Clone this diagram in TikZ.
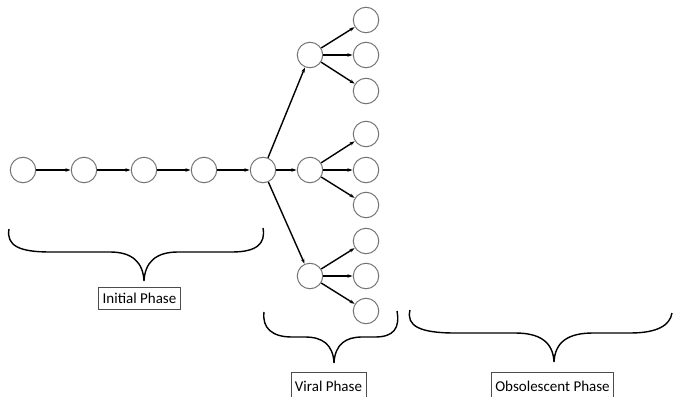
\documentclass[tikz,border=0pt]{standalone}
\usepackage{fontspec}
\setmainfont{Carlito}
\usetikzlibrary{arrows.meta}
\begin{document}
\begin{tikzpicture}[x=1pt,y=-1pt,
  st/.style={circle,draw=black!55,line width=1pt,fill=white,minimum size=25.5pt,inner sep=0pt},
  conn/.style={black,line width=1.4pt,-{Stealth[length=5pt,width=3.5pt]},shorten >=0.3pt},
  brc/.style={black,line width=1.4pt},
  lbl/.style={draw=black!70,line width=0.8pt,fill=white,font=\fontsize{15}{17}\selectfont,inner xsep=4pt,inner ysep=2pt,minimum height=22pt},
  lblcut/.style={lbl,minimum height=28pt}]
\useasboundingbox (0,0) rectangle (674,396);
% chain
\node[st] (c1) at (23,170) {};
\node[st] (c2) at (84,170) {};
\node[st] (c3) at (144,170) {};
\node[st] (c4) at (204,170) {};
\node[st] (c5) at (263,170) {};
% branch nodes
\node[st] (b1) at (310,55) {};
\node[st] (b2) at (310,170) {};
\node[st] (b3) at (310,276) {};
% leaves
\node[st] (l1) at (366,20) {};
\node[st] (l2) at (366,55) {};
\node[st] (l3) at (366,91) {};
\node[st] (l4) at (366,134) {};
\node[st] (l5) at (366,170) {};
\node[st] (l6) at (366,205) {};
\node[st] (l7) at (366,241) {};
\node[st] (l8) at (366,276) {};
\node[st] (l9) at (366,311) {};
% connectors
\draw[conn] (c1) -- (c2);
\draw[conn] (c2) -- (c3);
\draw[conn] (c3) -- (c4);
\draw[conn] (c4) -- (c5);
\draw[conn] (c5) -- (b1);
\draw[conn] (c5) -- (b2);
\draw[conn] (c5) -- (b3);
\draw[conn] (b1) -- (l1);
\draw[conn] (b1) -- (l2);
\draw[conn] (b1) -- (l3);
\draw[conn] (b2) -- (l4);
\draw[conn] (b2) -- (l5);
\draw[conn] (b2) -- (l6);
\draw[conn] (b3) -- (l7);
\draw[conn] (b3) -- (l8);
\draw[conn] (b3) -- (l9);
% braces
\draw[brc] (9,229) .. controls (6,246) and (20,252) .. (50,252)
  -- (110,252) .. controls (132,252) and (143,262) .. (144,281)
  .. controls (145,262) and (156,252) .. (178,252)
  -- (232,252) .. controls (256,252) and (266,244) .. (263,228);
\draw[brc] (264,312) .. controls (262,328) and (272,337) .. (292,337)
  -- (305,337) .. controls (322,337) and (333,344) .. (334,363)
  .. controls (335,344) and (346,337) .. (362,337)
  -- (375,337) .. controls (394,337) and (400,328) .. (397,311);
\draw[brc] (410,310) .. controls (406,326) and (420,333) .. (455,333)
  -- (515,333) .. controls (540,333) and (553,342) .. (554,362)
  .. controls (555,342) and (568,333) .. (593,333)
  -- (630,333) .. controls (658,333) and (670,325) .. (672,313);
% labels
\node[lbl,anchor=north] (t1) at (139.5,287) {Initial Phase};
\node[lblcut,anchor=north] (t2) at (328.5,372) {Viral Phase};
\node[lblcut,anchor=north] (t3) at (552.5,372) {Obsolescent Phase};
\end{tikzpicture}
\end{document}
